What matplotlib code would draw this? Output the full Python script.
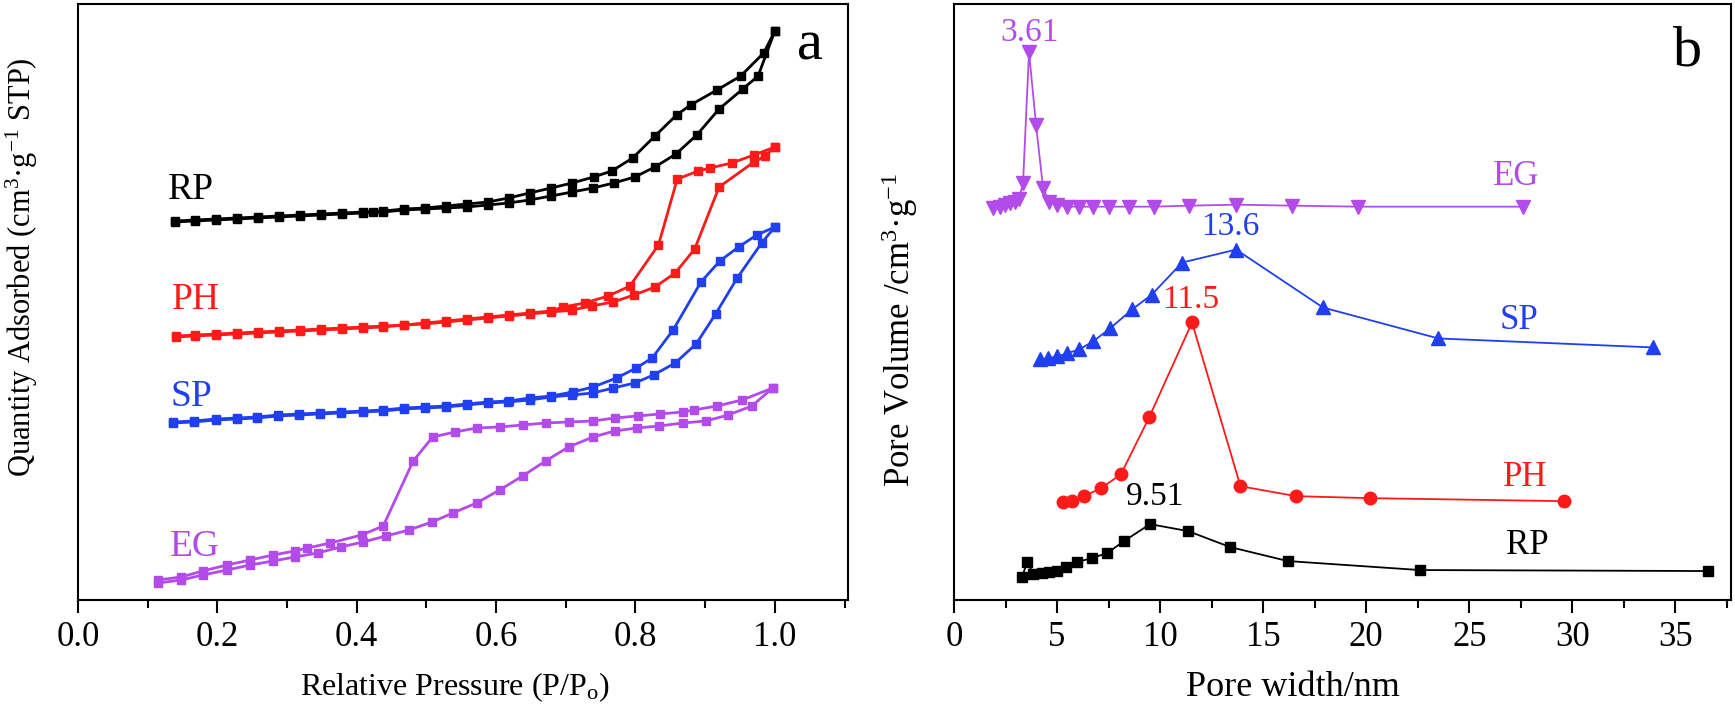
import matplotlib
matplotlib.use("Agg")
import matplotlib.pyplot as plt
from matplotlib.ticker import MultipleLocator, FormatStrFormatter

plt.rcParams['font.family'] = ['Liberation Serif', 'DejaVu Serif']
plt.rcParams['mathtext.default'] = 'regular'

# ---------------- Panel a: N2 isotherms (arbitrary quantity units) -------------
RP_ads_x = [0.139,0.168,0.198,0.228,0.258,0.288,0.318,0.349,0.379,0.409,0.423,0.438,0.468,0.498,0.528,0.558,0.588,0.618,0.648,0.679,0.709,0.739,0.769,0.799,0.828,0.858,0.888,0.920,0.954,0.976,1.0]
RP_ads_y = [378,379,380,381,382,383,384,385,386,387,388,388,390,391,392,393,395,397,400,404,408,412,417,423,433,446,465,491,511,524,569]
RP_des_x = [1.0,0.984,0.951,0.917,0.879,0.859,0.828,0.796,0.766,0.740,0.709,0.679,0.648,0.618,0.588,0.558,0.528,0.498,0.468,0.438,0.409,0.379,0.349,0.318,0.288,0.258,0.228,0.198,0.168,0.139]
RP_des_y = [569,547,524,510,495,485,464,442,429,423,417,412,407,402,398,396,394,392,391,389,388,387,386,385,384,383,382,381,380,379]

PH_ads_x = [0.140,0.168,0.198,0.228,0.258,0.288,0.318,0.349,0.379,0.409,0.438,0.468,0.498,0.528,0.558,0.588,0.618,0.648,0.679,0.709,0.737,0.768,0.798,0.828,0.857,0.885,0.920,0.970,0.986,1.0]
PH_ads_y = [263,264,265,266,267,268,269,270,271,272,273,275,276,278,280,282,284,286,288,290,294,298,305,313,327,351,413,438,444,453]
PH_des_x = [1.0,0.970,0.938,0.907,0.890,0.860,0.833,0.792,0.761,0.727,0.696,0.679,0.648,0.618,0.588,0.558,0.528,0.498,0.468,0.438,0.409,0.379,0.349,0.318,0.288,0.258,0.228,0.198,0.168,0.140]
PH_des_y = [453,445,437,432,429,421,355,314,304,297,293,289,287,285,283,281,279,277,275,274,273,272,271,270,269,268,267,266,265,264]

SP_ads_x = [0.136,0.166,0.198,0.228,0.257,0.287,0.317,0.347,0.377,0.409,0.438,0.468,0.498,0.528,0.558,0.588,0.617,0.648,0.679,0.709,0.739,0.768,0.799,0.826,0.857,0.887,0.915,0.946,0.981,1.0]
SP_ads_y = [177,178,180,181,182,184,185,186,187,188,189,191,192,193,195,197,198,200,203,205,207,212,217,225,237,256,286,322,357,373]
SP_des_x = [1.0,0.974,0.948,0.921,0.894,0.854,0.824,0.801,0.773,0.739,0.710,0.679,0.648,0.618,0.588,0.558,0.528,0.498,0.468,0.438,0.409,0.377,0.347,0.317,0.287,0.257,0.228,0.198,0.166,0.136]
SP_des_y = [373,365,353,339,318,270,242,232,222,213,208,204,202,199,198,196,194,193,192,190,189,188,187,186,185,183,182,181,179,178]

EG_ads_x = [0.115,0.148,0.179,0.214,0.247,0.280,0.311,0.344,0.377,0.409,0.442,0.475,0.508,0.538,0.572,0.605,0.638,0.671,0.704,0.739,0.770,0.802,0.834,0.868,0.901,0.933,0.967,0.997]
EG_ads_y = [17,20,25,30,35,39,43,47,53,58,64,70,78,87,97,110,124,139,153,163,169,172,174,177,179,185,194,212]
EG_des_x = [0.997,0.953,0.917,0.884,0.868,0.835,0.803,0.770,0.739,0.704,0.671,0.638,0.605,0.572,0.541,0.509,0.481,0.438,0.407,0.362,0.329,0.311,0.280,0.247,0.214,0.179,0.148,0.115]
EG_des_y = [212,200,194,190,188,186,184,182,179,178,177,175,173,172,168,163,139,74,65,57,52,49,45,40,35,29,23,20]

# ---------------- Panel b: pore size distributions (arbitrary units) ----------
EG_w = [1.89,2.23,2.48,2.72,2.96,3.16,3.35,3.64,3.98,4.32,4.61,5.0,5.48,6.07,6.75,7.52,8.5,9.7,11.4,13.7,16.4,19.6,27.6]
EG_v = [393,394,396,398,399,402,418,549,476,413,399,396,394,394,394,394,394,394,395,396,395,394,394]
SP_w = [4.17,4.56,5.0,5.48,6.07,6.75,7.57,8.64,9.6,11.07,13.69,17.9,23.5,33.9]
SP_v = [241,242,244,247,251,259,272,291,306,338,351,293,262,253]
PH_w = [5.3,5.72,6.3,7.14,8.1,9.47,11.55,13.9,16.6,20.2,29.6]
PH_v = [98,99,104,112,126,183,278,114,104,102,99]
RP_w = [3.3,3.55,3.85,4.27,4.61,5.0,5.44,5.97,6.7,7.43,8.25,9.51,11.36,13.4,16.2,22.6,36.6]
RP_v = [23,38,26,27,28,29,33,38,42,47,59,76,69,53,39,30,29]

peak_labels = ["3.61", "13.6", "11.5", "9.51"]

C_RP = '#000000'
C_PH = '#FF1A1A'
C_SP = '#1F3FF0'
C_EG = '#B24BEA'

fig = plt.figure(figsize=(17.35, 7.10), dpi=100)
axa = fig.add_axes([78/1735, 1-600/710, (848-78)/1735, 596/710])
axb = fig.add_axes([954/1735, 1-600/710, (1731-954)/1735, 596/710])

lw_a, ms_a = 2.0, 6
for (xs, ys), c in [((RP_ads_x, RP_ads_y), C_RP), ((RP_des_x, RP_des_y), C_RP),
                    ((PH_ads_x, PH_ads_y), C_PH), ((PH_des_x, PH_des_y), C_PH),
                    ((SP_ads_x, SP_ads_y), C_SP), ((SP_des_x, SP_des_y), C_SP),
                    ((EG_ads_x, EG_ads_y), C_EG), ((EG_des_x, EG_des_y), C_EG)]:
    axa.plot(xs, ys, '-s', color=c, lw=lw_a, ms=ms_a, mec=c, mfc=c)

axa.set_xlim(0, 1.105)
axa.set_ylim(0, 596)
axa.set_yticks([])
axa.xaxis.set_major_locator(MultipleLocator(0.2))
axa.xaxis.set_minor_locator(MultipleLocator(0.1))
axa.xaxis.set_major_formatter(FormatStrFormatter('%.1f'))
axa.tick_params(axis='x', which='major', direction='out', length=9, width=1.5,
                labelsize=25, pad=6)
axa.tick_params(axis='x', which='minor', direction='out', length=6, width=1.5)

ta = 27
axa.text(0.162, 410, 'RP', color=C_RP, fontsize=ta, ha='center', va='center')
axa.text(0.169, 300, 'PH', color=C_PH, fontsize=ta, ha='center', va='center')
axa.text(0.162, 203, 'SP', color=C_SP, fontsize=ta, ha='center', va='center')
axa.text(0.168, 53, 'EG', color=C_EG, fontsize=ta, ha='center', va='center')
axa.text(1.050, 555, 'a', color='k', fontsize=42, ha='center', va='center')

# Panel b
lw_b = 1.3
axb.plot(EG_w, EG_v, '-v', color=C_EG, lw=lw_b, ms=10)
axb.plot(SP_w, SP_v, '-^', color=C_SP, lw=lw_b, ms=10)
axb.plot(PH_w, PH_v, '-o', color=C_PH, lw=lw_b, ms=9)
axb.plot(RP_w, RP_v, '-s', color=C_RP, lw=lw_b, ms=7.5)

axb.set_xlim(0, 37.7)
axb.set_ylim(0, 597)
axb.set_yticks([])
axb.xaxis.set_major_locator(MultipleLocator(5))
axb.xaxis.set_minor_locator(MultipleLocator(2.5))
axb.tick_params(axis='x', which='major', direction='out', length=9, width=1.5,
                labelsize=25, pad=6)
axb.tick_params(axis='x', which='minor', direction='out', length=6, width=1.5)

tb = 25
axb.text(3.64, 568, peak_labels[0], color=C_EG, fontsize=24, ha='center', va='center')
axb.text(13.4, 374, peak_labels[1], color=C_SP, fontsize=24, ha='center', va='center')
axb.text(11.46, 301, peak_labels[2], color=C_PH, fontsize=24, ha='center', va='center')
axb.text(9.76, 103, peak_labels[3], color=C_RP, fontsize=24, ha='center', va='center')
axb.text(27.3, 424, 'EG', color=C_EG, fontsize=tb, ha='center', va='center')
axb.text(27.4, 280, 'SP', color=C_SP, fontsize=tb, ha='center', va='center')
axb.text(27.7, 123, 'PH', color=C_PH, fontsize=tb, ha='center', va='center')
axb.text(27.8, 55, 'RP', color=C_RP, fontsize=tb, ha='center', va='center')
axb.text(35.6, 549, 'b', color='k', fontsize=42, ha='center', va='center')

for ax in (axa, axb):
    for s in ax.spines.values():
        s.set_linewidth(1.5)

fig.text(22/1735, 1-267/710, 'Quantity Adsorbed (cm$^{3}$·g$^{-1}$ STP)',
         rotation=90, ha='center', va='center', fontsize=22)
fig.text(900/1735, 1-330/710, 'Pore Volume /cm$^{3}$·g$^{-1}$',
         rotation=90, ha='center', va='center', fontsize=25)
fig.text(455/1735, 1-687/710, 'Relative Pressure (P/P$_{o}$)',
         ha='center', va='center', fontsize=23)
fig.text(1293/1735, 1-688/710, 'Pore width/nm',
         ha='center', va='center', fontsize=26)

fig.savefig('out.png', dpi=100)
